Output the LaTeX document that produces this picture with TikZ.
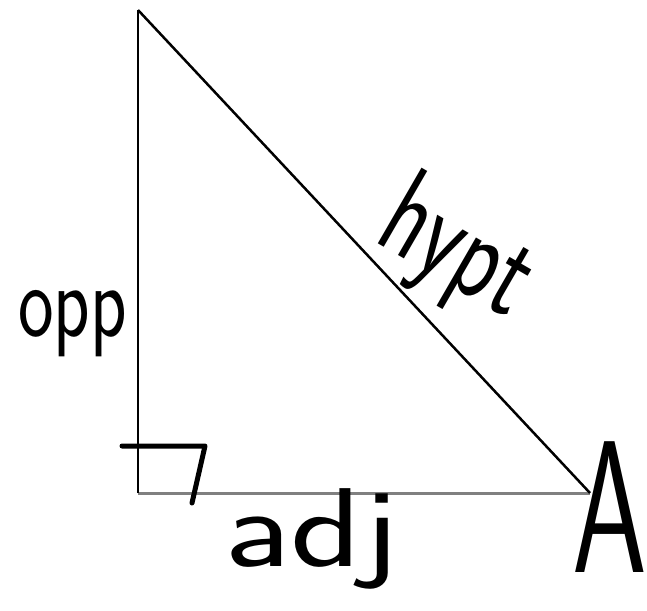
\documentclass[tikz,border=0pt]{standalone}
\begin{document}
\begin{tikzpicture}[x=1pt,y=-1pt,
  side/.style={line width=2.5pt},
  grayside/.style={line width=3pt,draw=gray},
  anglemark/.style={line width=5pt,line cap=round,line join=round},
  hand/.style={inner sep=0pt, anchor=base west}]
\useasboundingbox (0,0) rectangle (647,610);
\coordinate (T) at (138,10);
\coordinate (C) at (138,493);
\coordinate (R) at (590,493);
\draw[grayside] (C) -- (R);
\draw[side] (C) -- (T);
\draw[side] (T) -- (R);
\coordinate (m1) at (122,446);
\coordinate (m2) at (205,446);
\coordinate (m3) at (192,503);
\draw[anglemark] (m1) -- (m2) -- (m3);
\node[hand, xscale=1.05, yscale=1.45, font=\sffamily\fontsize{72}{72}\selectfont] (opp) at (18,336) {opp};
\node[hand, rotate=-30, xscale=1.0, yscale=1.4, font=\sffamily\fontsize{90}{90}\selectfont] (hypt) at (372,240) {hypt};
\node[hand, xscale=1.45, yscale=1.1, font=\sffamily\fontsize{102}{102}\selectfont] (adj) at (224,566) {adj};
\node[hand, xscale=0.92, yscale=1.45, font=\sffamily\fontsize{130}{130}\selectfont] (A) at (572,572) {A};
\end{tikzpicture}
\end{document}
